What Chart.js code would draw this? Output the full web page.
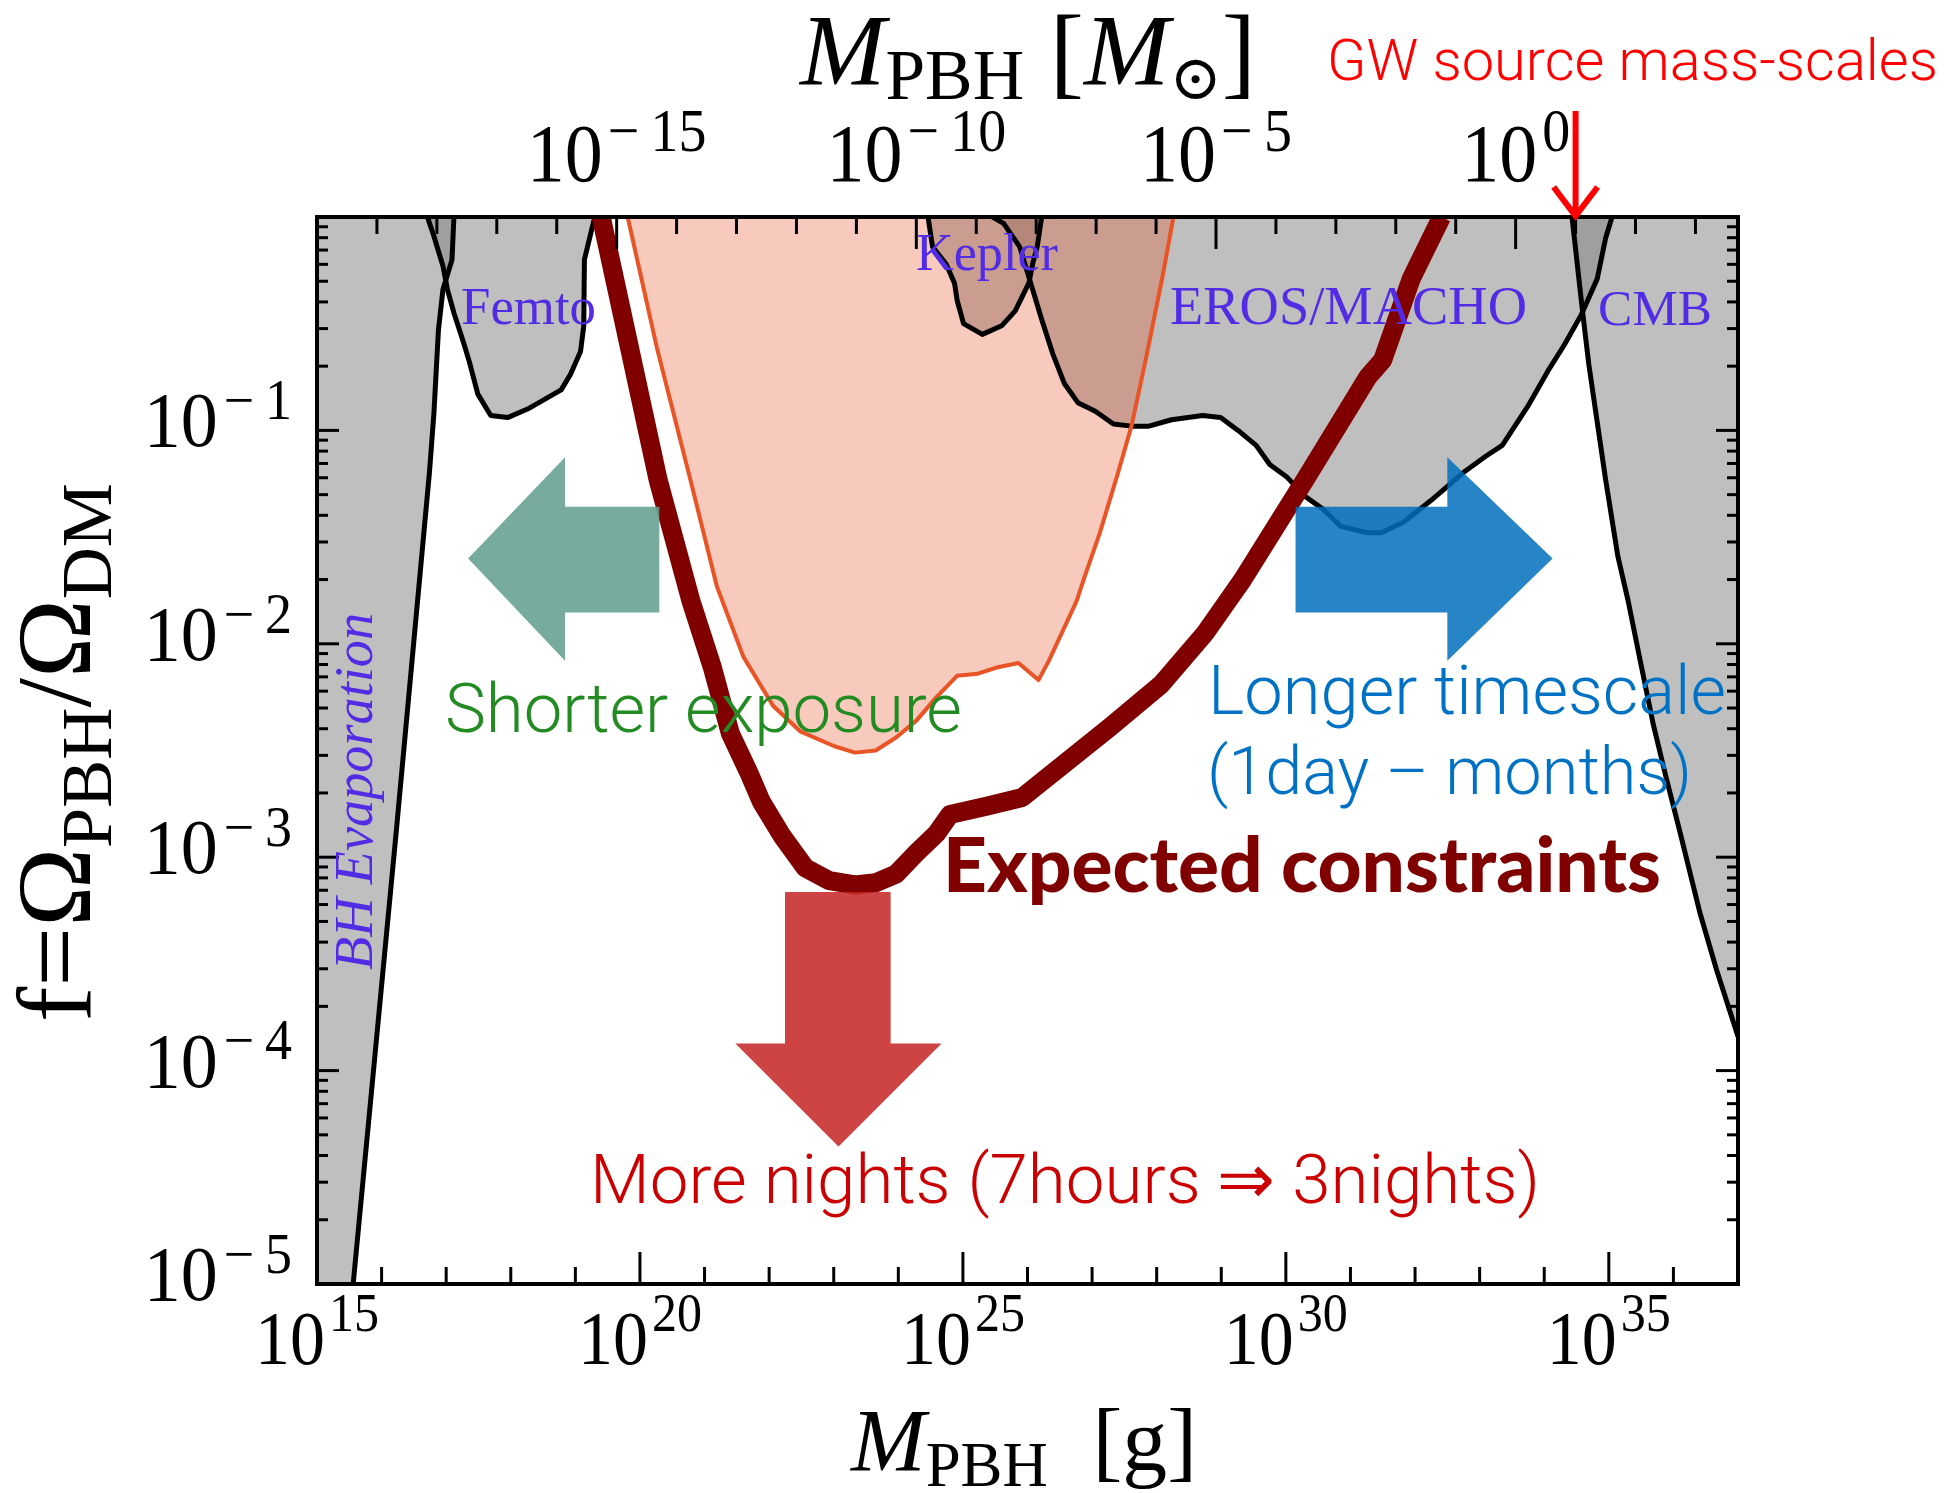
<!DOCTYPE html>
<html>
<head>
<meta charset="utf-8">
<title>PBH constraints</title>
<script src="https://cdn.jsdelivr.net/npm/chart.js@4/dist/chart.umd.min.js"></script>
<style>
html,body{margin:0;padding:0;background:#fff;overflow:hidden;}
canvas{display:block;}
</style>
</head>
<body>
<canvas id="chart" width="1948" height="1493"></canvas>
<script>
// ---------- axis ranges (log10 units) ----------
const xRangeExp = [15, 37];          // M_PBH [g]
const yRangeExp = [-5, 0];           // f
const topRangeExp = [-20, 3.71];     // M_PBH [M_sun] (top axis)
const bottomTickExps = [15, 20, 25, 30, 35];
const topTickExps = [-15, -10, -5, 0];
const leftTickExps = [-5, -4, -3, -2, -1];

// ---------- constraint curves: log10(M/g), log10(f) ----------
const evapM = [15.56, 16.23, 16.74, 16.81, 16.88, 16.95, 17.09, 17.12];
const evapF = [-5.0, -2.87, -1.20, -0.92, -0.53, -0.34, -0.20, 0.0];

const femtoM = [16.71, 16.81, 16.95, 17.02, 17.12, 17.26, 17.36, 17.49, 17.69, 17.95, 18.26, 18.78, 18.92, 19.08, 19.13, 19.14, 19.26, 19.30];
const femtoF = [0.0, -0.09, -0.23, -0.34, -0.45, -0.58, -0.68, -0.83, -0.93, -0.94, -0.90, -0.81, -0.74, -0.63, -0.51, -0.20, -0.05, 0.0];

const keplerM = [24.46, 24.53, 24.74, 24.87, 24.91, 25.01, 25.30, 25.60, 25.81, 26.02, 26.08, 26.15, 26.22];
const keplerF = [0.0, -0.14, -0.22, -0.31, -0.39, -0.50, -0.55, -0.51, -0.44, -0.31, -0.22, -0.14, 0.0];

const erosM = [25.46, 25.63, 25.88, 26.02, 26.22, 26.39, 26.57, 26.78, 27.05, 27.33, 27.61, 27.88, 28.23, 28.71, 28.99, 29.26, 29.54, 29.75, 30.02, 30.30, 30.58, 30.85, 31.27, 31.48, 31.82, 32.24, 32.78, 33.10, 33.35, 33.74, 34.06, 34.31, 34.57, 34.82, 34.95, 35.05];
const erosF = [0.0, -0.03, -0.14, -0.28, -0.48, -0.64, -0.78, -0.87, -0.91, -0.97, -0.98, -0.98, -0.95, -0.93, -0.94, -1.00, -1.07, -1.16, -1.22, -1.31, -1.37, -1.45, -1.48, -1.48, -1.43, -1.33, -1.19, -1.12, -1.07, -0.89, -0.72, -0.60, -0.46, -0.29, -0.10, 0.0];

const cmbM = [34.43, 34.60, 34.69, 34.82, 34.95, 35.14, 35.30, 35.48, 35.69, 35.89, 36.10, 36.41, 36.67, 37.0];
const cmbF = [0.0, -0.46, -0.69, -0.96, -1.23, -1.59, -1.80, -2.07, -2.38, -2.63, -2.88, -3.26, -3.53, -3.84];

const hscM = [19.81, 20.26, 20.78, 21.19, 21.60, 22.06, 22.48, 23.01, 23.33, 23.65, 23.96, 24.28, 24.59, 24.91, 25.23, 25.54, 25.86, 26.17, 26.33, 26.53, 26.76, 26.88, 27.12, 27.40, 27.61, 27.85, 28.09, 28.26];
const hscF = [0.0, -0.61, -1.23, -1.73, -2.06, -2.29, -2.41, -2.48, -2.51, -2.50, -2.44, -2.36, -2.25, -2.15, -2.14, -2.11, -2.09, -2.17, -2.08, -1.95, -1.80, -1.69, -1.48, -1.20, -0.98, -0.64, -0.28, 0.0];

const expectedM = [19.40, 20.28, 20.79, 21.12, 21.40, 21.68, 21.88, 22.20, 22.56, 22.93, 23.33, 23.65, 23.96, 24.28, 24.59, 24.80, 25.38, 25.92, 27.28, 28.07, 28.75, 29.33, 30.30, 31.27, 31.50, 31.94, 32.41];
const expectedF = [0.0, -1.23, -1.80, -2.11, -2.42, -2.60, -2.74, -2.90, -3.05, -3.11, -3.13, -3.12, -3.08, -2.98, -2.89, -2.80, -2.76, -2.72, -2.39, -2.19, -1.95, -1.70, -1.23, -0.75, -0.67, -0.29, 0.0];

// ---------- annotation arrows (data space, log10 units) ----------
const leftArrowM  = [20.30, 18.84, 18.84, 17.34, 18.84, 18.84, 20.30];
const leftArrowF  = [-1.358, -1.358, -1.126, -1.60, -2.08, -1.853, -1.853];
const rightArrowM = [30.15, 32.50, 32.50, 34.13, 32.50, 32.50, 30.15];
const rightArrowF = [-1.358, -1.358, -1.126, -1.60, -2.08, -1.853, -1.853];
const downArrowM  = [22.246, 23.881, 23.881, 24.67, 23.074, 21.477, 22.246];
const downArrowF  = [-3.163, -3.163, -3.873, -3.873, -4.356, -3.873, -3.873];
const gwArrowMsunExp = 1;   // on the top (solar-mass) axis

// ---------- helpers ----------
const toPts = (ms, fs) => ms.map((m, i) => ({x: Math.pow(10, m), y: Math.pow(10, fs[i])}));
const GRAY = 'rgba(128,128,128,0.5)';
const SERIF = "'Liberation Serif', 'DejaVu Serif', serif";
const SANS = "'Roboto', 'Liberation Sans', 'DejaVu Sans', sans-serif";
const BOLDF = "'Lato', 'Open Sans', 'DejaVu Sans', sans-serif";
const VIOLET = 'rgb(82,44,228)';

function fillDs(data, color, order) {
  return {data, backgroundColor: color, borderColor: 'rgba(0,0,0,0)', borderWidth: 0, fill: 'shape',
          pointRadius: 0, tension: 0, order};
}
function lineDs(data, color, width, order) {
  return {data, borderColor: color, borderWidth: width, backgroundColor: 'rgba(0,0,0,0)', fill: false,
          pointRadius: 0, tension: 0, order, borderJoinStyle: 'round'};
}

const evapPoly = toPts(evapM.concat([xRangeExp[0], xRangeExp[0]]), evapF.concat([yRangeExp[1], yRangeExp[0]]));
const cmbPoly = toPts(cmbM.concat([xRangeExp[1]]), cmbF.concat([yRangeExp[1]]));

const datasets = [
  fillDs(evapPoly, GRAY, 20),
  fillDs(toPts(femtoM, femtoF), GRAY, 19),
  fillDs(toPts(keplerM, keplerF), GRAY, 18),
  fillDs(toPts(erosM, erosF), GRAY, 17),
  fillDs(cmbPoly, GRAY, 16),
  fillDs(toPts(hscM, hscF), 'rgba(230,80,35,0.3)', 15),
  lineDs(toPts(evapM, evapF), '#000', 5, 10),
  lineDs(toPts(femtoM, femtoF), '#000', 5, 10),
  lineDs(toPts(keplerM, keplerF), '#000', 5, 10),
  lineDs(toPts(erosM, erosF), '#000', 5, 10),
  lineDs(toPts(cmbM, cmbF), '#000', 5, 10),
  lineDs(toPts(hscM, hscF), 'rgb(232,84,38)', 4, 8),
  lineDs(toPts(expectedM, expectedF), 'rgb(128,0,0)', 19, 5)
];

function fontOf(r, o, fam) {
  return (r.it ? 'italic ' : '') + (r.wt || o.wt || 'normal') + ' ' + r.s + 'px ' + (r.fam || fam);
}
function drawRuns(c, runs, o) {
  c.save();
  const fam = o.fam || SERIF;
  let total = 0;
  const ws = runs.map(r => { c.font = fontOf(r, o, fam); const w = c.measureText(r.t).width + (r.gap || 0); total += w; return w; });
  const k = o.w ? o.w / total : 1;
  c.translate(o.x, o.y);
  if (o.rot) c.rotate(o.rot);
  c.scale(k, k * (o.stretch || 1));
  c.fillStyle = o.color || '#000';
  c.textBaseline = 'alphabetic';
  c.textAlign = 'left';
  let cur = o.align === 'center' ? -total / 2 : (o.align === 'right' ? -total : 0);
  runs.forEach((r, i) => { c.font = fontOf(r, o, fam); c.fillText(r.t, cur, r.dy || 0); cur += ws[i]; });
  c.restore();
}
function polyPath(c, sx, sy, ms, fs) {
  c.beginPath();
  ms.forEach((m, i) => {
    const px = sx.getPixelForValue(Math.pow(10, m)), py = sy.getPixelForValue(Math.pow(10, fs[i]));
    if (i === 0) c.moveTo(px, py); else c.lineTo(px, py);
  });
  c.closePath();
}
const expLabel = e => (e < 0 ? '\u2212' + (-e) : String(e));

const decor = {
  id: 'decor',
  beforeDraw(chart) {
    const c = chart.ctx;
    c.save(); c.fillStyle = '#fff'; c.fillRect(0, 0, chart.width, chart.height); c.restore();
  },
  afterDatasetsDraw(chart) {
    const c = chart.ctx, a = chart.chartArea;
    const sx = chart.scales.x, sy = chart.scales.y, st = chart.scales.x2;
    // arrows
    c.save();
    polyPath(c, sx, sy, leftArrowM, leftArrowF); c.fillStyle = 'rgba(99,159,144,0.87)'; c.fill();
    polyPath(c, sx, sy, rightArrowM, rightArrowF); c.fillStyle = 'rgba(0,110,189,0.85)'; c.fill();
    polyPath(c, sx, sy, downArrowM, downArrowF); c.fillStyle = 'rgba(198,34,34,0.85)'; c.fill();
    c.restore();
    // ticks
    c.save();
    c.strokeStyle = '#000'; c.lineWidth = 3; c.lineCap = 'butt';
    const seg = (x1, y1, x2, y2) => { c.beginPath(); c.moveTo(x1, y1); c.lineTo(x2, y2); c.stroke(); };
    for (let e = xRangeExp[0]; e <= xRangeExp[1]; e++) {
      const px = sx.getPixelForValue(Math.pow(10, e));
      const L = (e % 5 === 0) ? 32 : 17;
      seg(px, a.bottom, px, a.bottom - L);
    }
    for (let e = Math.ceil(topRangeExp[0]); e <= Math.floor(topRangeExp[1]); e++) {
      const px = st.getPixelForValue(Math.pow(10, e));
      const L = (e % 5 === 0) ? 32 : 17;
      seg(px, a.top, px, a.top + L);
    }
    for (let e = yRangeExp[0]; e < yRangeExp[1]; e++) {
      for (let k = 1; k <= 9; k++) {
        const py = sy.getPixelForValue(k * Math.pow(10, e));
        const L = (k === 1) ? 22 : 11;
        seg(a.left, py, a.left + L, py);
        seg(a.right, py, a.right - L, py);
      }
    }
    // frame
    c.lineWidth = 4;
    c.strokeRect(a.left, a.top, a.right - a.left, a.bottom - a.top);
    c.restore();
  },
  afterDraw(chart) {
    const c = chart.ctx, a = chart.chartArea;
    const sx = chart.scales.x, sy = chart.scales.y, st = chart.scales.x2;
    // tick labels
    bottomTickExps.forEach(e => {
      drawRuns(c, [{t: '10', s: 70, gap: 4}, {t: expLabel(e), s: 50, dy: -30}],
        {x: sx.getPixelForValue(Math.pow(10, e)), y: 1364, align: 'center', stretch: 1.1});
    });
    topTickExps.forEach(e => {
      drawRuns(c, [{t: '10', s: 76, gap: 5}, {t: e < 0 ? '\u2212\u2009' + (-e) : String(e), s: 56, dy: -28}],
        {x: st.getPixelForValue(Math.pow(10, e)), y: 181, align: 'center', stretch: 1.08});
    });
    leftTickExps.forEach(e => {
      drawRuns(c, [{t: '10', s: 74, gap: 6}, {t: '\u2212\u2009' + (-e), s: 54, dy: -26}],
        {x: 292, y: sy.getPixelForValue(Math.pow(10, e)) + 16, align: 'right', stretch: 1.05});
    });
    // axis titles
    drawRuns(c, [{t: 'M', s: 100, it: true}, {t: 'PBH', s: 70, dy: 18}, {t: '  [g]', s: 100}],
      {x: 851, y: 1470, w: 346});
    drawRuns(c, [{t: 'M', s: 95, it: true}, {t: 'PBH', s: 66, dy: 13}, {t: ' [', s: 95},
                 {t: 'M', s: 95, it: true}, {t: '\u2299', s: 58, dy: 13}, {t: ']', s: 95}],
      {x: 800, y: 85, w: 456});
    drawRuns(c, [{t: 'f=\u03A9', s: 100}, {t: 'PBH', s: 68, dy: 20}, {t: '/\u03A9', s: 100}, {t: 'DM', s: 68, dy: 20}],
      {x: 90, y: 1022, w: 539, rot: -Math.PI / 2});
    // region labels
    drawRuns(c, [{t: 'Femto', s: 52}], {x: 461, y: 324, w: 135, color: VIOLET});
    drawRuns(c, [{t: 'Kepler', s: 52}], {x: 916, y: 270, w: 142, color: VIOLET});
    drawRuns(c, [{t: 'EROS/MACHO', s: 52}], {x: 1170, y: 324, w: 357, color: VIOLET});
    drawRuns(c, [{t: 'CMB', s: 52}], {x: 1598, y: 325, w: 114, color: VIOLET});
    drawRuns(c, [{t: 'BH Evaporation', s: 52, it: true}], {x: 372, y: 970, w: 357, rot: -Math.PI / 2, color: VIOLET});
    // annotations
    drawRuns(c, [{t: 'Shorter exposure', s: 68}], {x: 445, y: 732, w: 517, color: '#228B22', fam: SANS, wt: '300'});
    drawRuns(c, [{t: 'Longer timescale', s: 68}], {x: 1208, y: 714, w: 518, color: '#0072C6', fam: SANS, wt: '300'});
    drawRuns(c, [{t: '(1day \u2013 months)', s: 68}], {x: 1207, y: 794, w: 485, color: '#0072C6', fam: SANS, wt: '300'});
    drawRuns(c, [{t: 'Expected constraints', s: 64}], {x: 943, y: 892, w: 718, color: '#800000', fam: BOLDF, wt: '900'});
    drawRuns(c, [{t: 'More nights (7hours \u21D2 3nights)', s: 68}], {x: 590, y: 1203, w: 950, color: '#CC0000', fam: SANS, wt: '300'});
    drawRuns(c, [{t: 'GW source mass-scales', s: 58}], {x: 1327, y: 80, w: 611, color: '#FF0000', fam: SANS, wt: '300'});
    // GW arrow
    const gx = st.getPixelForValue(Math.pow(10, gwArrowMsunExp));
    c.save();
    c.strokeStyle = '#FF0000'; c.lineWidth = 6; c.lineCap = 'butt'; c.lineJoin = 'miter';
    c.beginPath(); c.moveTo(gx, 111); c.lineTo(gx, a.top - 2); c.stroke();
    c.beginPath(); c.moveTo(gx - 22, a.top - 30); c.lineTo(gx, a.top - 1); c.lineTo(gx + 22, a.top - 30); c.stroke();
    c.restore();
  }
};

new Chart(document.getElementById('chart'), {
  type: 'line',
  data: {datasets},
  options: {
    responsive: false,
    maintainAspectRatio: false,
    devicePixelRatio: 1,
    animation: false,
    events: [],
    layout: {padding: {left: 317, top: 217, right: 1948 - 1738, bottom: 1493 - 1284}},
    plugins: {legend: {display: false}, tooltip: {enabled: false}},
    scales: {
      x: {type: 'logarithmic', min: Math.pow(10, xRangeExp[0]), max: Math.pow(10, xRangeExp[1]), display: false},
      y: {type: 'logarithmic', min: Math.pow(10, yRangeExp[0]), max: Math.pow(10, yRangeExp[1]), display: false},
      x2: {type: 'logarithmic', axis: 'x', position: 'top', min: Math.pow(10, topRangeExp[0]), max: Math.pow(10, topRangeExp[1]), display: false}
    }
  },
  plugins: [decor]
});
</script>
</body>
</html>
